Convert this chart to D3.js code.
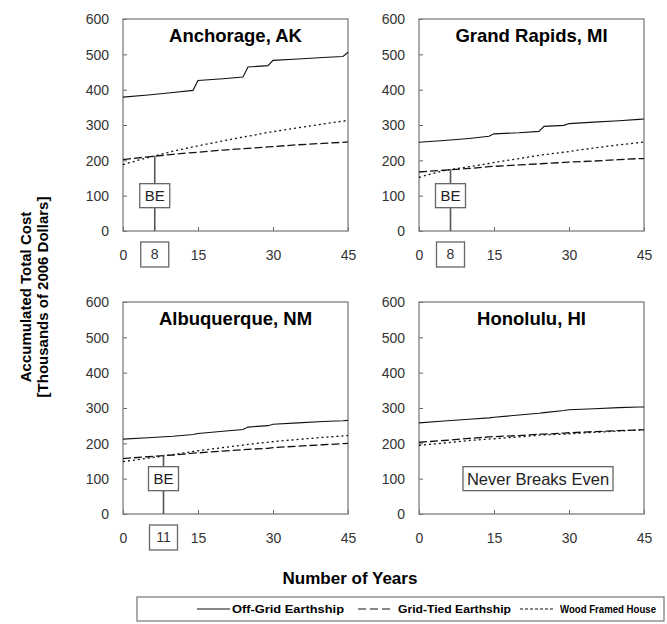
<!DOCTYPE html>
<html>
<head>
<meta charset="utf-8">
<script src="https://cdn.jsdelivr.net/npm/d3@7"></script>
<style>
  body { margin: 0; background: #fff; }
  svg { display: block; font-family: "Liberation Sans", Arial, sans-serif; }
  .tick text { font-size: 14px; fill: #333; }
  .tick line { stroke: #666; }
  .domain { display: none; }
</style>
</head>
<body>
<div id="chart"></div>
<script>
/* Data */

var years = [0, 5, 10, 14, 15, 20, 24, 25, 29, 30, 35, 40, 44, 45]
var cities = ["Anchorage, AK", "Grand Rapids, MI", "Albuquerque, NM", "Honolulu, HI"]
var seriesNames = ["Off-Grid Earthship", "Grid-Tied Earthship", "Wood Framed House"]

var offGrid = [
  [379, 385, 392, 398, 426, 431, 436, 464, 468, 483, 487, 491, 494, 506],
  [251, 256, 262, 268, 275, 278, 282, 296, 299, 304, 308, 312, 316, 317],
  [212, 216, 220, 225, 228, 234, 239, 246, 250, 254, 258, 262, 264, 265],
  [258, 263, 268, 272, 274, 280, 285, 287, 293, 295, 298, 301, 303, 303]
]
var gridTied = [
  [202, 210, 217, 222, 223, 229, 233, 234, 238, 239, 244, 248, 251, 252],
  [167, 172, 177, 182, 183, 187, 190, 191, 194, 195, 198, 202, 205, 205],
  [157, 162, 167, 172, 173, 178, 182, 183, 186, 188, 192, 196, 199, 200],
  [203, 208, 214, 218, 219, 222, 226, 226, 229, 230, 233, 236, 238, 238]
]
var woodFrame = [
  [188, 208, 226, 238, 241, 255, 266, 268, 279, 281, 292, 303, 311, 313],
  [152, 171, 182, 191, 194, 205, 214, 216, 223, 225, 235, 244, 250, 252],
  [148, 158, 168, 177, 179, 188, 195, 197, 203, 205, 211, 217, 221, 222],
  [194, 201, 208, 212, 213, 218, 223, 224, 226, 227, 231, 235, 238, 239]
]

// break-even marker: where it sits on the axis, the year it is labelled with, and its height
var breakEvenAt = [6.35, 6.3, 8.1, null]
var breakEvenLabel = ["8", "8", "11", null]
var breakEvenCost = [213, 175, 168, null]

var xTicks = [0, 15, 30, 45]
var yTicks = [0, 100, 200, 300, 400, 500, 600]

/* Layout */

var width = 667, height = 624
var plotW = 225, plotH = 212
var panelX = [123, 419]
var panelY = [19, 302]
var dashStyles = [null, "8,3", "2,3"]

var svg = d3.select("#chart").append("svg")
  .attr("width", width)
  .attr("height", height)

var x = d3.scaleLinear().domain([0, 45]).range([0, plotW])
var y = d3.scaleLinear().domain([0, 600]).range([plotH, 0])

cities.forEach(function (city, i) {
  var g = svg.append("g")
    .attr("transform", "translate(" + panelX[i % 2] + "," + panelY[Math.floor(i / 2)] + ")")

  // axes, ticks point inward
  g.append("g")
    .call(d3.axisLeft(y).tickValues(yTicks).tickSize(-4).tickPadding(14))
    .selectAll(".tick text").attr("dy", "0.35em")

  var xAxis = g.append("g")
    .attr("transform", "translate(0," + plotH + ")")
    .call(d3.axisBottom(x).tickValues(xTicks).tickSize(-4).tickPadding(19))

  g.append("rect")
    .attr("width", plotW).attr("height", plotH)
    .attr("fill", "none").attr("stroke", "#7f7f7f").attr("stroke-width", 1.3)

  var all = [offGrid[i], gridTied[i], woodFrame[i]]
  all.forEach(function (vals, s) {
    var line = d3.line()
      .x(function (d, k) { return x(years[k]) })
      .y(function (d) { return y(d) })
    g.append("path")
      .attr("d", line(vals))
      .attr("fill", "none")
      .attr("stroke", "#111")
      .attr("stroke-width", s == 0 ? 1.1 : 1.3)
      .attr("stroke-dasharray", dashStyles[s])
  })

  g.append("text")
    .attr("x", plotW / 2).attr("y", 23)
    .attr("text-anchor", "middle")
    .attr("font-size", "18.5px").attr("font-weight", "bold")
    .text(city)

  if (breakEvenAt[i] != null) {
    var bx = x(breakEvenAt[i])
    g.append("line")
      .attr("x1", bx).attr("x2", bx)
      .attr("y1", y(breakEvenCost[i])).attr("y2", plotH)
      .attr("stroke", "#555").attr("stroke-width", 1.6)

    g.append("rect")
      .attr("x", bx - 15).attr("y", y(100) - 12)
      .attr("width", 30).attr("height", 24)
      .attr("fill", "#fff").attr("stroke", "#666").attr("stroke-width", 1.3)
    g.append("text")
      .attr("x", bx).attr("y", y(100)).attr("dy", "0.36em")
      .attr("text-anchor", "middle").attr("font-size", "15px").attr("fill", "#222")
      .text("BE")

    // year label in a box below the axis
    xAxis.append("rect")
      .attr("x", bx - 14).attr("y", 11)
      .attr("width", 28).attr("height", 25)
      .attr("fill", "#fff").attr("stroke", "#666").attr("stroke-width", 1.3)
    xAxis.append("text")
      .attr("x", bx).attr("y", 18).attr("dy", "0.71em")
      .attr("text-anchor", "middle").attr("font-size", "14px").attr("fill", "#333")
      .text(breakEvenLabel[i])
  } else {
    g.append("rect")
      .attr("x", 44).attr("y", y(100) - 12)
      .attr("width", 150).attr("height", 24)
      .attr("fill", "#fff").attr("stroke", "#666").attr("stroke-width", 1.3)
    g.append("text")
      .attr("x", 119).attr("y", y(100)).attr("dy", "0.36em")
      .attr("text-anchor", "middle").attr("font-size", "16.5px").attr("fill", "#222")
      .text("Never Breaks Even")
  }
})

// axis titles
var yTitle = svg.append("text")
  .attr("transform", "translate(31,297) rotate(-90)")
  .attr("text-anchor", "middle")
  .attr("font-size", "15px").attr("font-weight", "bold")
yTitle.append("tspan").attr("x", 0).attr("y", 0).text("Accumulated Total Cost")
yTitle.append("tspan").attr("x", 0).attr("y", 17).text("[Thousands of 2006 Dollars]")

svg.append("text")
  .attr("x", 350).attr("y", 584)
  .attr("text-anchor", "middle")
  .attr("font-size", "17px").attr("font-weight", "bold")
  .text("Number of Years")

// legend
var legend = svg.append("g").attr("transform", "translate(137,597)")
legend.append("rect")
  .attr("width", 527).attr("height", 24)
  .attr("fill", "#fff").attr("stroke", "#7f7f7f").attr("stroke-width", 1.3)

var legendX = [60, 221, 383]
var legendTextX = [95, 261, 423]
var legendTextW = [112, 113, 96]
seriesNames.forEach(function (name, s) {
  legend.append("line")
    .attr("x1", legendX[s]).attr("x2", legendX[s] + 33).attr("y1", 12).attr("y2", 12)
    .attr("stroke", "#111").attr("stroke-width", 1.1)
    .attr("stroke-dasharray", s == 0 ? null : (s == 1 ? "8,4" : "3,2"))
  legend.append("text")
    .attr("x", legendTextX[s]).attr("y", 12).attr("dy", "0.36em")
    .attr("font-size", "11px").attr("font-weight", "bold")
    .attr("textLength", legendTextW[s]).attr("lengthAdjust", "spacingAndGlyphs")
    .text(name)
})
</script>
</body>
</html>
